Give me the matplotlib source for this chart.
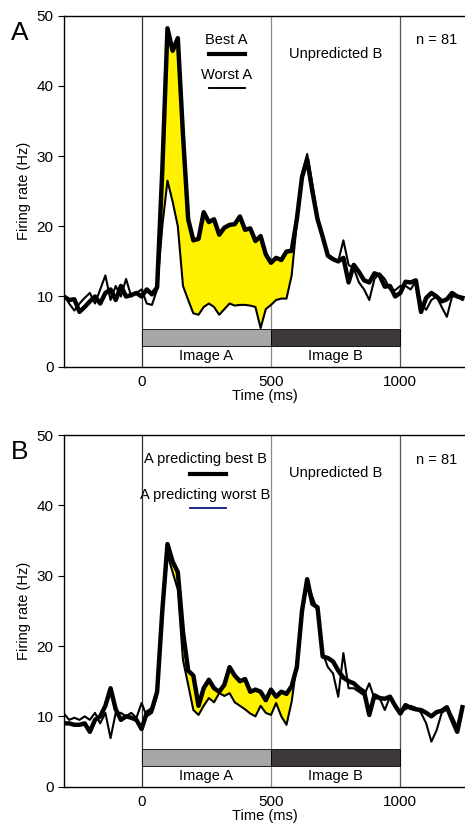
import matplotlib
matplotlib.use("Agg")
import matplotlib.pyplot as plt
import numpy as np

plt.rcParams['font.family'] = ['Liberation Sans', 'DejaVu Sans']

# time bins (ms)
time_ms = np.arange(-300, 1250, 20)

# panel A: best A vs worst A (Hz)
best_a = [10.0, 9.5, 9.6, 7.8, 8.5, 9.3, 10.0, 9.0, 10.5, 11.0,
          9.5, 11.5, 10.0, 10.2, 10.5, 10.0, 11.0, 10.3, 11.3, 28.0,
          48.2, 45.0, 46.8, 33.0, 21.0, 18.0, 18.2, 22.0, 20.6, 21.0,
          18.8, 19.8, 20.2, 20.3, 21.4, 19.5, 19.7, 17.9, 18.6, 16.0,
          14.8, 15.5, 15.2, 16.4, 16.5, 21.0, 27.0, 29.5, 25.0, 21.0,
          18.5, 15.8, 15.3, 15.0, 15.5, 12.0, 14.5, 13.5, 12.3, 12.0,
          13.3, 13.0, 11.4, 11.5, 10.0, 10.5, 12.1, 12.0, 12.3, 7.8,
          9.8, 10.5, 10.0, 9.3, 9.6, 10.5, 10.0, 9.8]
worst_a = [10.2, 9.0, 8.0, 9.0, 9.8, 10.5, 9.0, 11.0, 13.0, 9.5,
           11.5, 10.0, 12.5, 10.0, 10.5, 11.0, 9.0, 8.8, 11.0, 20.0,
           26.5, 23.5, 20.0, 11.5, 9.5, 7.6, 7.4, 8.5, 9.0, 8.5,
           7.4, 8.2, 9.0, 8.7, 8.8, 8.8, 8.7, 8.5, 5.5, 8.2,
           8.8, 9.5, 9.7, 9.7, 13.0, 20.5, 27.5, 30.3, 26.0, 21.5,
           18.0, 16.0, 15.5, 15.0, 18.0, 14.5, 14.0, 12.0, 11.0, 9.5,
           12.5, 13.3, 12.5, 11.0, 10.9, 11.5, 11.5, 11.0, 12.2, 9.0,
           8.1, 9.5, 10.0, 8.5, 7.1, 10.0, 10.0, 9.5]

# panel B: A predicting best B vs A predicting worst B (Hz)
best_b = [9.0, 9.0, 8.8, 8.8, 9.0, 7.8, 9.5, 10.0, 11.5, 14.0,
          11.0, 9.5, 10.0, 9.8, 9.5, 8.2, 10.5, 11.0, 13.5, 25.0,
          34.5, 32.0, 30.5, 22.0, 16.5, 15.8, 11.5, 14.0, 15.2, 14.0,
          13.5, 14.5, 17.0, 15.8, 15.0, 15.3, 13.5, 13.8, 13.5, 12.3,
          13.8, 12.8, 13.5, 13.2, 14.3, 17.0, 25.0, 29.5, 26.0, 25.5,
          18.5, 18.3, 17.8, 16.5, 15.5, 15.0, 14.7, 14.0, 13.5, 10.2,
          13.0, 12.6, 12.5, 12.8, 11.5, 10.4, 11.6, 11.2, 11.0, 10.9,
          10.5, 10.0, 10.6, 10.8, 11.3, 9.5, 7.8, 11.3]
worst_b = [10.4, 9.5, 9.8, 9.5, 10.0, 9.5, 10.5, 9.0, 10.5, 6.9,
           10.5, 10.5, 10.0, 10.5, 9.8, 11.9, 10.0, 10.5, 13.0, 24.5,
           33.0, 30.5, 28.0, 18.0, 14.5, 10.9, 10.2, 11.5, 12.6, 12.0,
           13.3, 12.9, 13.3, 12.0, 11.5, 11.0, 10.4, 10.0, 11.5, 10.5,
           10.2, 11.9, 10.0, 8.8, 12.1, 17.5, 25.5, 29.0, 27.0, 25.0,
           19.0, 17.0, 16.1, 12.8, 19.0, 14.0, 14.0, 13.5, 13.0, 14.7,
           12.5, 12.6, 10.9, 12.8, 11.5, 10.8, 11.0, 11.5, 11.2, 10.5,
           9.0, 6.4, 8.0, 10.5, 11.0, 10.0, 8.5, 11.0]

epochs = ["Image A", "Image B"]
epoch_edges = [0, 500, 1000]
yticks = [0, 10, 20, 30, 40, 50]
xticks = [0, 500, 1000]

YELLOW = '#fff200'
FS = 10.5


def draw_panel(ax, best, worst, label, best_txt, worst_txt, worst_col, txt_x, leg_x):
    t = time_ms
    best = np.array(best)
    worst = np.array(worst)
    win = (t >= 80) & (t <= 590)
    ax.fill_between(t, worst, best, where=win & (best >= worst),
                    color=YELLOW, lw=0, interpolate=True, zorder=2)
    ax.plot(t, worst, color='black', lw=1.5, zorder=3)
    ax.plot(t, best, color='black', lw=3.2, zorder=4)

    # epoch bars
    cols = ['#a7a7a7', '#3e3838']
    for i, name in enumerate(epochs):
        x0, x1 = epoch_edges[i], epoch_edges[i + 1]
        ax.add_patch(plt.Rectangle((x0, 3.0), x1 - x0, 2.4, facecolor=cols[i],
                                   edgecolor='black', lw=0.6, zorder=1))
        ax.text((x0 + x1) / 2, 1.5, name, ha='center', va='center', fontsize=FS)
    ax.axvline(0, color='#333333', lw=0.9, zorder=0)
    ax.axvline(500, color='#8a8a8a', lw=0.9, zorder=0)
    ax.axvline(1000, color='#555555', lw=0.9, zorder=0)

    # legend-like labels
    ax.text(txt_x, 46.6, best_txt, ha='center', va='center', fontsize=FS)
    ax.plot(leg_x, [44.5, 44.5], color='black', lw=3.0)
    ax.text(txt_x, 41.5, worst_txt, ha='center', va='center', fontsize=FS)
    ax.plot(leg_x, [39.7, 39.7], color=worst_col, lw=1.4)
    ax.text(751, 44.6, "Unpredicted B", ha='center', va='center', fontsize=FS)
    ax.text(1140, 46.5, "n = 81", ha='center', va='center', fontsize=FS)

    ax.set_xlim(-300, 1250)
    ax.set_ylim(0, 50)
    ax.set_xticks(xticks)
    ax.set_yticks(yticks)
    ax.tick_params(axis='x', length=0, labelsize=FS + 0.5, pad=6)
    ax.tick_params(axis='y', direction='out', length=4, labelsize=FS + 0.5)
    ax.spines['right'].set_visible(False)
    for s in ['left', 'top', 'bottom']:
        ax.spines[s].set_linewidth(1.0)
    ax.set_ylabel("Firing rate (Hz)", fontsize=FS, labelpad=4)
    ax.set_xlabel("Time (ms)", fontsize=FS, labelpad=0)
    ax.text(-0.133, 0.985, label, transform=ax.transAxes, fontsize=19,
            ha='left', va='top')


fig = plt.figure(figsize=(4.65, 8.24), dpi=100)
ax_a = fig.add_axes([0.1376, 0.555, 0.8624, 0.426])
ax_b = fig.add_axes([0.1376, 0.0453, 0.8624, 0.4267])

draw_panel(ax_a, best_a, worst_a, "A", "Best A", "Worst A", 'black', 329, [259, 399])
draw_panel(ax_b, best_b, worst_b, "B", "A predicting best B", "A predicting worst B",
           '#1b2a8c', 245, [186, 328])

fig.savefig("out.png", dpi=100)
